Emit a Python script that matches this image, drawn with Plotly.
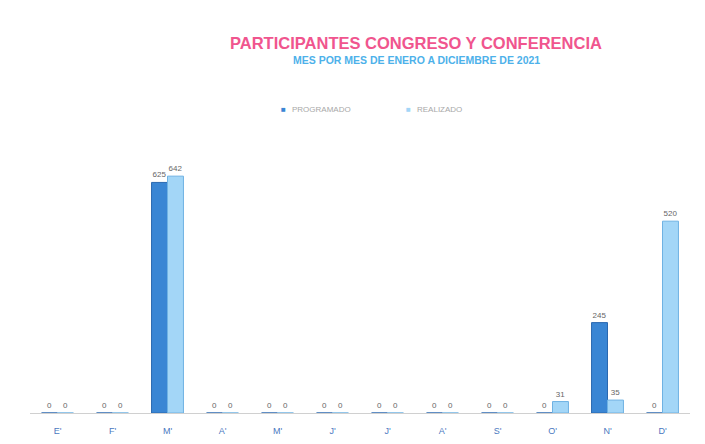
import plotly.graph_objects as go

months = ["E'", "F'", "M'", "A'", "M'", "J'", "J'", "A'", "S'", "O'", "N'", "D'"]
programado = [0, 0, 625, 0, 0, 0, 0, 0, 0, 0, 245, 0]
realizado = [0, 0, 642, 0, 0, 0, 0, 0, 0, 31, 35, 520]

x_idx = list(range(len(months)))

W, H = 705, 444
ML, MR, MT, MB = 22, 23, 132, 39
PW, PH = W - ML - MR, H - MT - MB


def px(x):
    return (x - ML) / PW


def py(y):
    return (H - MB - y) / PH


fig = go.Figure()
fig.add_trace(go.Bar(
    name="PROGRAMADO", x=x_idx, y=programado,
    marker=dict(color="#3a86d4", line=dict(color="#2a68b0", width=1)),
    text=[str(v) for v in programado], textposition="outside",
    textfont=dict(size=8, color="#666666"), cliponaxis=False,
))
fig.add_trace(go.Bar(
    name="REALIZADO", x=x_idx, y=realizado,
    marker=dict(color="#a3d6f7", line=dict(color="#6fb2e3", width=1)),
    text=[str(v) for v in realizado], textposition="outside",
    textfont=dict(size=8, color="#666666"), cliponaxis=False,
))

annotations = [
    dict(text="<b>PARTICIPANTES CONGRESO Y CONFERENCIA</b>", x=px(408), y=py(35),
         font=dict(size=16.5, color="#f0558e")),
    dict(text="<b>MES POR MES DE ENERO A DICIEMBRE DE 2021</b>", x=px(409), y=py(52),
         font=dict(size=10.5, color="#4db1ea")),
    dict(text="■", x=px(275), y=py(102), font=dict(size=8, color="#3a86d4")),
    dict(text="PROGRAMADO", x=px(282), y=py(102), xanchor="left",
         font=dict(size=8, color="#a8a8a8")),
    dict(text="■", x=px(400), y=py(102), font=dict(size=8, color="#a3d6f7")),
    dict(text="REALIZADO", x=px(407), y=py(102), xanchor="left",
         font=dict(size=8, color="#a8a8a8")),
]
for a in annotations:
    a.setdefault("xanchor", "center")
    a.update(xref="paper", yref="paper", yanchor="middle", showarrow=False)

fig.update_layout(
    width=W, height=H,
    paper_bgcolor="white", plot_bgcolor="white",
    margin=dict(l=ML, r=MR, t=MT, b=MB),
    barmode="group", bargap=0.42, bargroupgap=0,
    font=dict(family="Liberation Sans", color="#555555"),
    showlegend=False,
    annotations=annotations,
)
fig.update_xaxes(
    tickmode="array", tickvals=x_idx, ticktext=months,
    tickfont=dict(size=9, color="#4a78c0"),
    ticks="outside", ticklen=9, tickcolor="rgba(0,0,0,0)",
    showgrid=False, showline=True, linecolor="#d0d0d0", linewidth=1,
    range=[-0.5, 11.5],
)
fig.update_yaxes(range=[0, 740], showgrid=False, showticklabels=False,
                 zeroline=False, showline=False)

fig.write_html("out.html")
